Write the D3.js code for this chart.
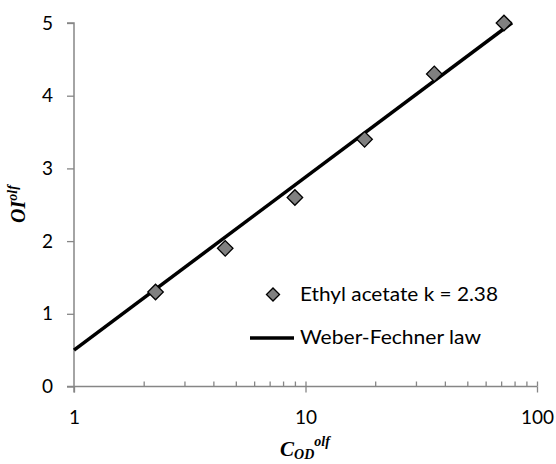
<!DOCTYPE html>
<html><head><meta charset="utf-8">
<script src="https://cdn.jsdelivr.net/npm/d3@7"></script>
<style>body{margin:0;background:#fff}</style>
</head><body>
<svg id="c" width="556" height="464"></svg>
<script>
const concentrations = [2.25, 4.5, 9, 18, 36, 72];
const oiValues = [1.3, 1.9, 2.6, 3.4, 4.3, 5.0];
const lawK = 2.38, lawB = 0.5, lawRange = [1, 78];
const yTicks = [0, 1, 2, 3, 4, 5];
const xTicks = [1, 10, 100];
const legendLabels = ["Ethyl acetate k = 2.38", "Weber-Fechner law"];

const svg = d3.select("#c");
const m = {l: 74, r: 537, t: 23, b: 386.5};
const x = d3.scaleLog().domain([1, 100]).range([m.l, m.r]);
const y = d3.scaleLinear().domain([0, 5]).range([m.b, m.t]);
const font = "Lato, 'Open Sans', sans-serif";
const axisCol = "#868686";

// y axis
const ya = svg.append("g").attr("transform", `translate(${m.l},0)`)
  .call(d3.axisLeft(y).tickValues(yTicks).tickSize(7).tickPadding(14).tickFormat(d3.format("d")));
// x axis major
const xa = svg.append("g").attr("transform", `translate(0,${y(0)})`)
  .call(d3.axisBottom(x).tickValues(xTicks).tickSize(6).tickPadding(18).tickFormat(d3.format("d")));
// x minor ticks (inside)
const minor = [];
for (let d = 1; d <= 10; d *= 10) for (let i = 2; i <= 9; i++) minor.push(i * d);
svg.append("g").attr("transform", `translate(0,${y(0)})`)
  .call(d3.axisTop(x).tickValues(minor.concat([10, 100])).tickSize(5).tickFormat(""))
  .call(g => g.select(".domain").remove());

svg.selectAll(".domain").attr("stroke", axisCol).attr("stroke-width", 1.5);
svg.selectAll(".tick line").attr("stroke", axisCol).attr("stroke-width", 1.3);
svg.selectAll(".tick text").attr("font-family", font).attr("font-size", 19).attr("fill", "#000");
ya.select(".domain").attr("d", `M-7,${m.t}H0V${m.b + 6}`);
xa.select(".domain").attr("d", `M${m.l - 7},0H${m.r}`);

// law line
const lawLine = d3.line().x(d => x(d)).y(d => y(lawB + lawK * Math.log10(d)));
svg.append("path").datum(lawRange).attr("d", lawLine)
  .attr("stroke", "#000").attr("stroke-width", 3.5).attr("fill", "none");

// points
svg.selectAll(".pt").data(concentrations).join("path")
  .attr("transform", (d, i) => `translate(${x(d)},${y(oiValues[i])}) rotate(45)`)
  .attr("d", d3.symbol().type(d3.symbolSquare).size(120))
  .attr("fill", "#808080").attr("stroke", "#000").attr("stroke-width", 1.3);

// legend
svg.append("path").attr("transform", "translate(273,294.5) rotate(45)")
  .attr("d", d3.symbol().type(d3.symbolSquare).size(85))
  .attr("fill", "#808080").attr("stroke", "#000").attr("stroke-width", 1.3);
svg.append("text").attr("x", 300).attr("y", 301).text(legendLabels[0])
  .attr("font-family", font).attr("font-size", 19.5).attr("textLength", 198).attr("lengthAdjust", "spacingAndGlyphs");
svg.append("line").attr("x1", 250).attr("x2", 294).attr("y1", 338).attr("y2", 338)
  .attr("stroke", "#000").attr("stroke-width", 3.5);
svg.append("text").attr("x", 300).attr("y", 344).text(legendLabels[1])
  .attr("font-family", font).attr("font-size", 19.5).attr("textLength", 181).attr("lengthAdjust", "spacingAndGlyphs");

// axis titles
const tf = "'Liberation Serif', 'Times New Roman', serif";
const yt = svg.append("text").attr("transform", "translate(25,204) rotate(-90)")
  .attr("text-anchor", "middle").attr("font-family", tf).attr("font-weight", "bold")
  .attr("font-style", "italic").attr("font-size", 20);
yt.append("tspan").text("OI");
yt.append("tspan").text("olf").attr("font-size", 14).attr("dy", -8);
const xt = svg.append("text").attr("x", 305).attr("y", 456)
  .attr("text-anchor", "middle").attr("font-family", tf).attr("font-weight", "bold")
  .attr("font-style", "italic").attr("font-size", 21);
xt.append("tspan").text("C");
xt.append("tspan").text("OD").attr("font-size", 14).attr("dy", 3);
xt.append("tspan").text("olf").attr("font-size", 14).attr("dy", -13);
</script>
</body></html>
